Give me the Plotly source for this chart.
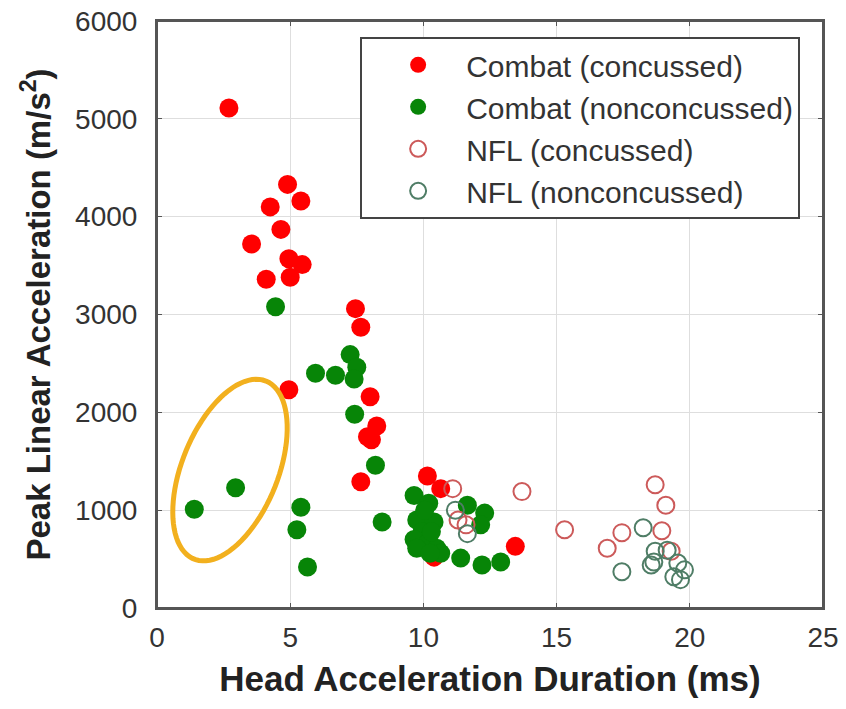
import numpy as np
import plotly.graph_objects as go

# values
combat_conc_x = [2.7, 4.9, 5.4, 4.25, 4.65, 3.55, 4.95, 5.45, 4.1, 5.0, 7.45, 7.65, 4.95,
                 8.0, 8.25, 7.9, 8.05, 7.65, 10.15, 10.65, 10.4, 13.45]
combat_conc_y = [5110, 4330, 4160, 4100, 3870, 3720, 3570, 3510, 3360, 3380, 3060, 2870, 2230,
                 2160, 1860, 1750, 1720, 1290, 1350, 1220, 520, 630]

combat_non_x = [4.45, 5.95, 6.7, 7.25, 7.5, 7.4, 7.42, 8.2, 8.45, 2.95, 1.4, 5.4, 5.25, 5.65,
                9.65, 10.2, 9.75, 10.4, 9.95, 9.65, 10.15, 9.75, 10.5, 10.65, 10.25, 10.05, 10.3,
                11.65, 12.3, 12.15, 11.4, 12.2, 12.9]
combat_non_y = [3080, 2400, 2380, 2590, 2460, 2340, 1980, 1460, 880, 1230, 1010, 1030, 800, 420,
                1150, 1070, 900, 880, 780, 700, 660, 610, 610, 560, 560, 1000, 780,
                1050, 970, 850, 510, 440, 470]

nfl_conc_x = [11.1, 11.3, 11.6, 13.7, 15.3, 16.9, 17.45, 18.7, 19.1, 18.95, 19.3]
nfl_conc_y = [1220, 900, 850, 1190, 800, 610, 770, 1260, 1050, 790, 580]

nfl_non_x = [11.2, 11.65, 17.45, 18.25, 18.65, 18.7, 19.15, 18.55, 19.55, 19.8, 19.4, 19.65]
nfl_non_y = [1000, 760, 370, 820, 470, 580, 590, 440, 460, 390, 320, 290]

x_ticks = [0, 5, 10, 15, 20, 25]
y_ticks = [0, 1000, 2000, 3000, 4000, 5000, 6000]

FONT = "Arial, Liberation Sans, sans-serif"

fig = go.Figure()

fig.add_trace(go.Scatter(
    x=combat_conc_x, y=combat_conc_y, mode="markers", name="Combat (concussed)",
    legendgroup="a",
    marker=dict(size=19, color="#ff0000", line=dict(width=0)),
))
fig.add_trace(go.Scatter(
    x=combat_non_x, y=combat_non_y, mode="markers", name="Combat (nonconcussed)",
    legendgroup="b",
    marker=dict(size=19, color="#078507", line=dict(width=0)),
))
fig.add_trace(go.Scatter(
    x=nfl_conc_x, y=nfl_conc_y, mode="markers", name="NFL (concussed)",
    legendgroup="c",
    marker=dict(size=17, symbol="circle-open", color="#cc5a5a", line=dict(width=2)),
))
fig.add_trace(go.Scatter(
    x=nfl_non_x, y=nfl_non_y, mode="markers", name="NFL (nonconcussed)",
    legendgroup="d",
    marker=dict(size=17, symbol="circle-open", color="#4f7d66", line=dict(width=2)),
))

# orange ellipse highlighting two points (pixel-ish scale converted to data units)
px_per_x = 666 / 25.0
px_per_y = 587 / 6000.0
cx, cy = 2.74, 1410
a, b, th = 96, 48, np.deg2rad(68)
t = np.linspace(0, 2 * np.pi, 90)
ex = cx + (a * np.cos(t) * np.cos(th) - b * np.sin(t) * np.sin(th)) / px_per_x
ey = cy + (a * np.cos(t) * np.sin(th) + b * np.sin(t) * np.cos(th)) / px_per_y
path = "M " + " L ".join(f"{x:.4f},{y:.2f}" for x, y in zip(ex, ey)) + " Z"
fig.add_shape(type="path", path=path, xref="x", yref="y",
              line=dict(color="#f2b01e", width=5))

# box around the plot area
fig.add_shape(type="rect", xref="paper", yref="paper", x0=0, x1=1, y0=0, y1=1,
              line=dict(color="#555555", width=2), layer="above")

axis_common = dict(
    showgrid=True, gridcolor="#dedede", gridwidth=1,
    showline=True, linecolor="#555555", linewidth=2, mirror="ticks",
    ticks="inside", ticklen=5, tickcolor="#555555", tickwidth=1,
    zeroline=False, automargin=False, ticklabeloverflow="allow",
    tickfont=dict(family=FONT, size=28, color="#333333"),
)

fig.update_xaxes(
    range=[0, 25], tickvals=x_ticks, ticklabelstandoff=3,
    title=dict(text="<b>Head Acceleration Duration (ms)</b>",
               font=dict(family=FONT, size=35, color="#222222")),
    **axis_common,
)
fig.update_yaxes(
    range=[0, 6000], tickvals=y_ticks, ticklabelstandoff=12,
    title=dict(text="<b>Peak Linear Acceleration (m/s<sup>2</sup>)</b>",
               font=dict(family=FONT, size=33, color="#222222")),
    **axis_common,
)

fig.update_layout(
    width=846, height=709,
    margin=dict(l=157, r=23, t=21, b=101),
    paper_bgcolor="white", plot_bgcolor="white",
    font=dict(family=FONT, color="#333333"),
    legend=dict(
        x=0.305, y=0.973, xanchor="left", yanchor="top",
        bgcolor="white", bordercolor="#444444", borderwidth=2,
        font=dict(family=FONT, size=30, color="#333333"),
        tracegroupgap=0, indentation=8, itemwidth=86,
    ),
)

# drop the default page margin so the figure sits at the window's corner
fig.write_html("out.html", config={"displayModeBar": False},
               post_script="document.body.style.margin='0';")
